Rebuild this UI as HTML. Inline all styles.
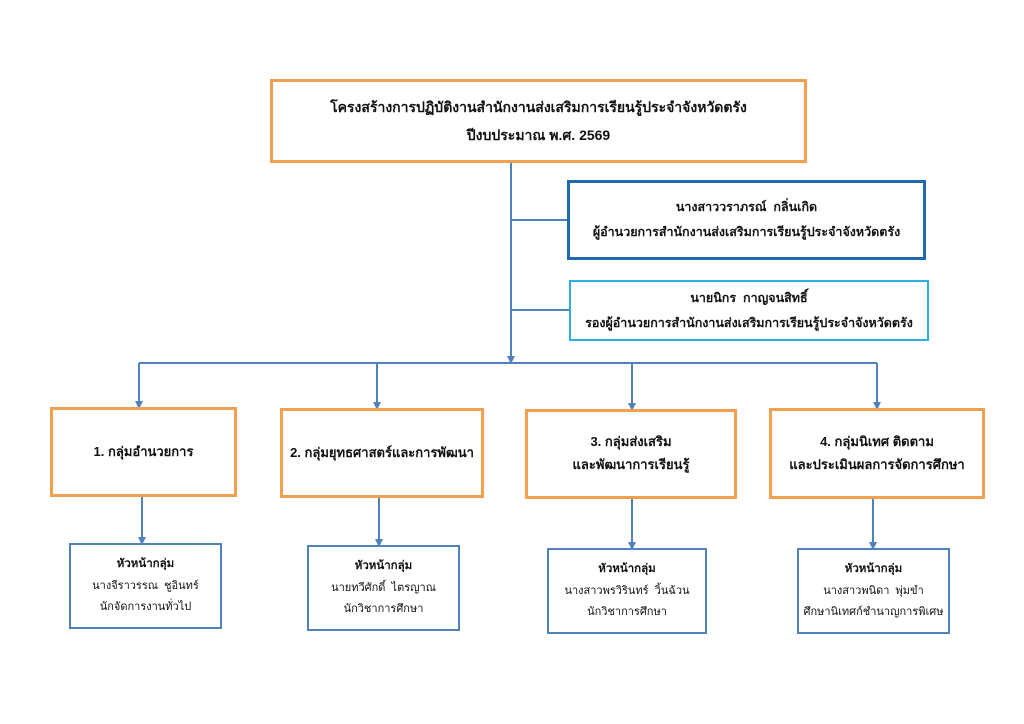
<!DOCTYPE html>
<html><head><meta charset="utf-8"><style>
body{margin:0;width:1024px;height:724px;background:#fff;position:relative;font-family:"Liberation Sans","DejaVu Sans",sans-serif;color:#111;overflow:hidden}
.b{position:absolute;box-sizing:border-box;display:flex;flex-direction:column;justify-content:center;align-items:center;text-align:center;line-height:1.75}
.o{border:3px solid #f0a04e;font-weight:bold;font-size:13px}
.s{border:2px solid #4f81bd;font-size:11px;line-height:1.9}
.s b{font-size:11.5px}
svg{position:absolute;left:0;top:0}
</style></head><body>
<svg width="1024" height="724">
<defs><marker id="a" markerWidth="8" markerHeight="8" refX="4" refY="4" orient="auto" markerUnits="userSpaceOnUse"><path d="M0,0 L8,4 L0,8z" fill="#4f81bd"/></marker></defs>
<g stroke="#4f81bd" stroke-width="2" fill="none">
<line x1="511" y1="162" x2="511" y2="360" marker-end="url(#a)"/>
<line x1="511" y1="220" x2="567" y2="220"/>
<line x1="511" y1="310" x2="569" y2="310"/>
<line x1="139" y1="363" x2="877" y2="363"/>
<line x1="139" y1="363" x2="139" y2="405" marker-end="url(#a)"/>
<line x1="377" y1="363" x2="377" y2="406" marker-end="url(#a)"/>
<line x1="632" y1="363" x2="632" y2="407" marker-end="url(#a)"/>
<line x1="877" y1="363" x2="877" y2="406" marker-end="url(#a)"/>
<line x1="142" y1="496" x2="142" y2="541" marker-end="url(#a)"/>
<line x1="379" y1="497" x2="379" y2="543" marker-end="url(#a)"/>
<line x1="632" y1="498" x2="632" y2="546" marker-end="url(#a)"/>
<line x1="873" y1="498" x2="873" y2="546" marker-end="url(#a)"/>
</g></svg>
<div class="b o" style="left:270px;top:79px;width:537px;height:84px;font-size:14px;line-height:2">โครงสร้างการปฏิบัติงานสำนักงานส่งเสริมการเรียนรู้ประจำจังหวัดตรัง<br>ปีงบประมาณ พ.ศ. 2569</div>
<div class="b" style="left:567px;top:180px;width:359px;height:80px;border:3px solid #1f6bb0;font-weight:bold;font-size:12.5px;line-height:2">นางสาววราภรณ์&nbsp; กลิ่นเกิด<br>ผู้อำนวยการสำนักงานส่งเสริมการเรียนรู้ประจำจังหวัดตรัง</div>
<div class="b" style="left:569px;top:280px;width:360px;height:61px;border:2px solid #2ab0e0;font-weight:bold;font-size:12.5px;line-height:2">นายนิกร&nbsp; กาญจนสิทธิ์<br>รองผู้อำนวยการสำนักงานส่งเสริมการเรียนรู้ประจำจังหวัดตรัง</div>
<div class="b o" style="left:50px;top:407px;width:187px;height:90px">1. กลุ่มอำนวยการ</div>
<div class="b o" style="left:280px;top:408px;width:204px;height:90px">2. กลุ่มยุทธศาสตร์และการพัฒนา</div>
<div class="b o" style="left:525px;top:409px;width:212px;height:90px">3. กลุ่มส่งเสริม<br>และพัฒนาการเรียนรู้</div>
<div class="b o" style="left:769px;top:408px;width:216px;height:91px">4. กลุ่มนิเทศ ติดตาม<br>และประเมินผลการจัดการศึกษา</div>
<div class="b s" style="left:69px;top:543px;width:153px;height:86px"><b>หัวหน้ากลุ่ม</b>นางจีราวรรณ&nbsp; ชูอินทร์<br>นักจัดการงานทั่วไป</div>
<div class="b s" style="left:307px;top:545px;width:153px;height:86px"><b>หัวหน้ากลุ่ม</b>นายทวีศักดิ์&nbsp; ไตรญาณ<br>นักวิชาการศึกษา</div>
<div class="b s" style="left:547px;top:548px;width:160px;height:86px"><b>หัวหน้ากลุ่ม</b>นางสาวพรวิรินทร์&nbsp; วิ้นฉ้วน<br>นักวิชาการศึกษา</div>
<div class="b s" style="left:797px;top:548px;width:153px;height:86px"><b>หัวหน้ากลุ่ม</b>นางสาวพนิดา&nbsp; พุ่มขำ<br>ศึกษานิเทศก์ชำนาญการพิเศษ</div>
</body></html>
